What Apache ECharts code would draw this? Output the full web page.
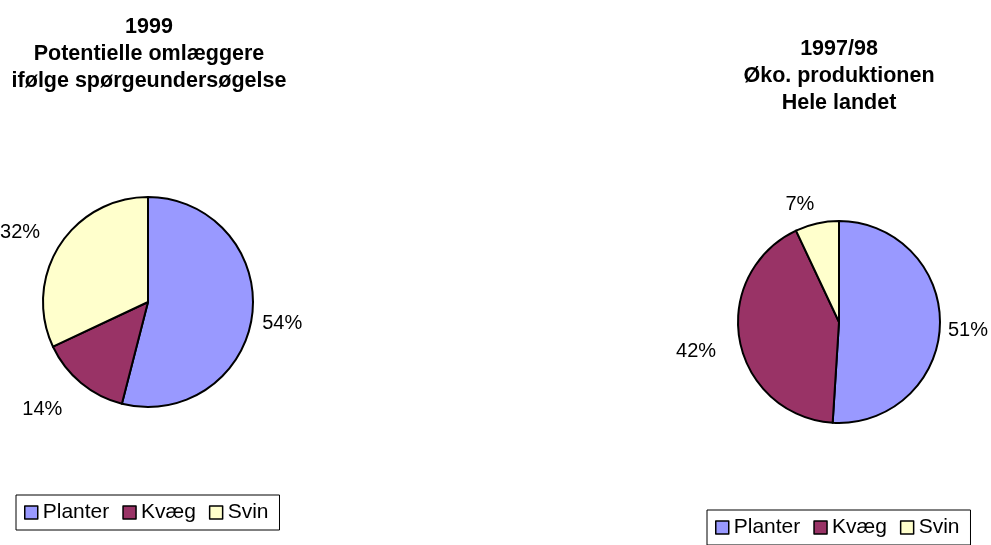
<!DOCTYPE html>
<html>
<head>
<meta charset="utf-8">
<script src="https://cdn.jsdelivr.net/npm/echarts@6/dist/echarts.min.js"></script>
<style>
  html, body { margin: 0; padding: 0; background: #ffffff; }
  #chart { width: 991px; height: 545px; }
</style>
</head>
<body>
<div id="chart"></div>
<script>
// Production categories (shared by both pies)
const categories = ['Planter', 'Kvæg', 'Svin'];

// 1999: potential converters according to survey (percent)
const survey1999 = [54, 14, 32];

// 1997/98: organic production, whole country (percent)
const production9798 = [51, 42, 7];

const leftTitle = '1999\nPotentielle omlæggere\nifølge spørgeundersøgelse';
const rightTitle = '1997/98\nØko. produktionen\nHele landet';

const colors = ['#9999FF', '#993366', '#FFFFCC'];
const FONT = 'Liberation Sans, Arial, sans-serif';

// Distance of each percentage label from the pie rim, per slice
const leftLabelGap = [5, 34, 24];
const rightLabelGap = [3, 19, 21];
// Small nudges [dx, dy] applied to each label after placement
const leftLabelNudge = [[0, 8], [8, 0], [6, 0]];
const rightLabelNudge = [[0, 5], [0, 7], [7, 2]];

function pieData(values, gaps) {
  return categories.map((name, i) => ({
    name: name,
    value: values[i],
    labelLine: { show: false, length: gaps[i], length2: 0 }
  }));
}

function pieSeries(values, gaps, nudges, center, radius) {
  return {
    type: 'pie',
    center: center,
    radius: radius,
    startAngle: 90,
    clockwise: true,
    avoidLabelOverlap: false,
    silent: true,
    animation: false,
    itemStyle: { borderColor: '#000000', borderWidth: 2 },
    label: {
      show: true,
      position: 'outside',
      formatter: '{d}%',
      fontFamily: FONT,
      fontSize: 20,
      color: '#000000'
    },
    labelLine: { show: false, length: 10, length2: 0 },
    labelLayout: function (p) {
      const n = nudges[p.dataIndex];
      return { dx: n[0], dy: n[1] };
    },
    emphasis: { disabled: true },
    data: pieData(values, gaps)
  };
}

function legendFor(pos) {
  return Object.assign({
    data: categories,
    orient: 'horizontal',
    icon: 'rect',
    itemWidth: 13,
    itemHeight: 13,
    itemGap: 13,
    padding: [7, 11, 7, 8],
    borderColor: '#000000',
    borderWidth: 1,
    backgroundColor: '#ffffff',
    selectedMode: false,
    itemStyle: { borderColor: '#000000', borderWidth: 1.5 },
    textStyle: { fontFamily: FONT, fontSize: 21, color: '#000000' }
  }, pos);
}

const chart = echarts.init(document.getElementById('chart'), null, { renderer: 'canvas' });
chart.setOption({
  backgroundColor: '#ffffff',
  color: colors,
  animation: false,
  title: [
    {
      text: leftTitle,
      left: 149, top: 14, textAlign: 'center', padding: 0,
      textStyle: { fontFamily: FONT, fontSize: 21.5, fontWeight: 'bold', lineHeight: 27, color: '#000000' }
    },
    {
      text: rightTitle,
      left: 839, top: 36, textAlign: 'center', padding: 0,
      textStyle: { fontFamily: FONT, fontSize: 21.5, fontWeight: 'bold', lineHeight: 27, color: '#000000' }
    }
  ],
  legend: [
    legendFor({ left: 16, top: 495 }),
    legendFor({ left: 707, top: 510 })
  ],
  series: [
    pieSeries(survey1999, leftLabelGap, leftLabelNudge, [148, 302], 105),
    pieSeries(production9798, rightLabelGap, rightLabelNudge, [839, 322], 101)
  ]
});
</script>
</body>
</html>
